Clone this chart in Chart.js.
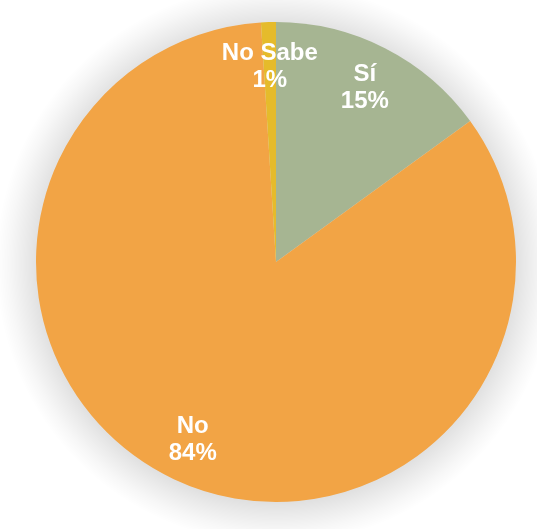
<!DOCTYPE html>
<html>
<head>
<meta charset="utf-8">
<script src="https://cdn.jsdelivr.net/npm/chart.js@4/dist/chart.umd.min.js"></script>
<style>
  html, body { margin: 0; padding: 0; background: #ffffff; }
  #wrap { width: 537px; height: 529px; position: relative; }
</style>
</head>
<body>
<div id="wrap"><canvas id="c" width="537" height="529"></canvas></div>
<script>
const categories = ['Sí', 'No', 'No Sabe'];
const values = [15, 84, 1];
const colors = ['#A6B592', '#F2A445', '#E5BB2B'];

// Soft gray halo behind the pie
const pieShadow = {
  id: 'pieShadow',
  beforeDatasetsDraw(chart) {
    const arc = chart.getDatasetMeta(0).data[0];
    if (!arc) return;
    const ctx = chart.ctx;
    const R = arc.outerRadius;
    const spread = 40;
    ctx.save();
    const g = ctx.createRadialGradient(arc.x, arc.y + 2, R - 4, arc.x, arc.y + 2, R + spread);
    g.addColorStop(0, 'rgba(0,0,0,0.13)');
    g.addColorStop(0.35, 'rgba(0,0,0,0.08)');
    g.addColorStop(0.7, 'rgba(0,0,0,0.03)');
    g.addColorStop(1, 'rgba(0,0,0,0)');
    ctx.fillStyle = g;
    ctx.beginPath();
    ctx.arc(arc.x, arc.y + 2, R + spread, 0, Math.PI * 2);
    ctx.fill();
    ctx.restore();
  }
};

// Category name and percentage inside each slice
const sliceLabels = {
  id: 'sliceLabels',
  afterDatasetsDraw(chart) {
    const ctx = chart.ctx;
    const meta = chart.getDatasetMeta(0);
    const total = values.reduce((a, b) => a + b, 0);
    ctx.save();
    ctx.fillStyle = '#ffffff';
    ctx.font = 'bold 24px "Liberation Sans", Arial, sans-serif';
    ctx.textAlign = 'center';
    ctx.textBaseline = 'middle';
    meta.data.forEach((arc, i) => {
      const mid = (arc.startAngle + arc.endAngle) / 2;
      const r = arc.outerRadius * 0.815;
      const x = arc.x + Math.cos(mid) * r;
      const y = arc.y + Math.sin(mid) * r;
      const pct = Math.round(values[i] / total * 100) + '%';
      ctx.fillText(categories[i], x, y - 13);
      ctx.fillText(pct, x, y + 14);
    });
    ctx.restore();
  }
};

new Chart(document.getElementById('c'), {
  type: 'pie',
  data: {
    labels: categories,
    datasets: [{
      data: values,
      backgroundColor: colors,
      borderWidth: 0
    }]
  },
  options: {
    responsive: false,
    animation: false,
    layout: { padding: { left: 36, right: 21, top: 22, bottom: 27 } },
    plugins: {
      legend: { display: false },
      tooltip: { enabled: false }
    }
  },
  plugins: [pieShadow, sliceLabels]
});
</script>
</body>
</html>
